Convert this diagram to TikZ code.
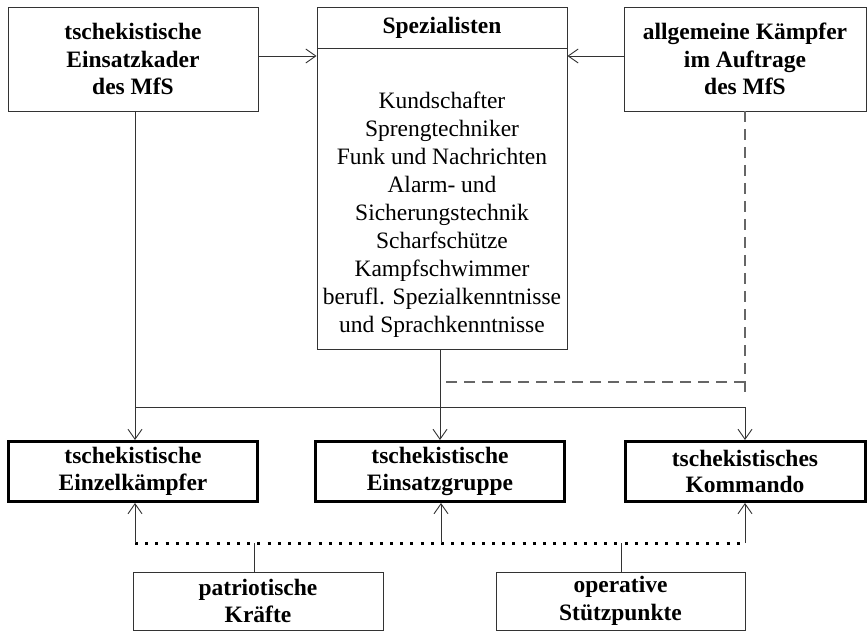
\documentclass[tikz,border=0pt]{standalone}
\usepackage{fontspec}
\setmainfont{Liberation Serif}
\usetikzlibrary{arrows.meta}
\begin{document}
\begin{tikzpicture}[x=1pt,y=-1pt,
  every node/.style={font=\fontsize{23.5}{28}\selectfont, inner sep=0pt, align=center},
  thinbox/.style={draw=black!80, line width=0.9pt, font=\fontsize{23.5}{27.5}\selectfont\bfseries},
  thickbox/.style={draw=black, line width=3pt, font=\fontsize{23.5}{26.5}\selectfont\bfseries},
  conn/.style={draw=black!80, line width=0.9pt},
  arr/.style={conn, -{Straight Barb[length=10pt,width=14pt,line width=0.9pt]}},
  dashline/.style={draw=black!60, line width=1.4pt, dash pattern=on 11pt off 7pt},
  dotline/.style={draw=black, line width=3pt, dash pattern=on 3pt off 7.2pt}
]
\useasboundingbox (0,0) rectangle (868,631);
% top row
\node[thinbox, minimum width=250pt, minimum height=104pt] (tek) at (133,59)
  {tschekistische\\Einsatzkader\\des MfS};
\node[thinbox, minimum width=250pt, minimum height=342pt] (spez) at (442,178) {};
\node[font=\fontsize{23.5}{27.5}\selectfont\bfseries] (spezhead) at (442,28) {Spezialisten};
\node (spezbody) at (442,214.5) {Kundschafter\\Sprengtechniker\\Funk und Nachrichten\\Alarm- und\\Sicherungstechnik\\Scharfschütze\\Kampfschwimmer\\berufl. Spezialkenntnisse\\und Sprachkenntnisse};
\coordinate (hl) at (317,48);
\coordinate (hr) at (567,48);
\draw[conn] (hl) -- (hr);
\node[thinbox, minimum width=242pt, minimum height=104pt] (akm) at (745,59)
  {allgemeine Kämpfer\\im Auftrage\\des MfS};
% middle row
\node[thickbox, minimum width=249pt, minimum height=60pt] (einzel) at (133,471.5)
  {tschekistische\\Einzelkämpfer};
\node[thickbox, minimum width=249pt, minimum height=60pt] (gruppe) at (440,471.5)
  {tschekistische\\Einsatzgruppe};
\node[thickbox, minimum width=240pt, minimum height=60pt] (kommando) at (745,471.5)
  {tschekistisches\\Kommando};
% bottom row
\node[thinbox, minimum width=250pt, minimum height=58pt] (patr) at (258,601)
  {patriotische\\Kräfte};
\node[thinbox, minimum width=249pt, minimum height=58pt] (oper) at (620.5,601)
  {operative\\Stützpunkte};
% coordinates
\coordinate (tekB) at (135,111);
\coordinate (j1) at (135,407);
\coordinate (j2) at (745,407);
\coordinate (spezB) at (440,349);
\coordinate (akmB) at (745,111);
\coordinate (dEnd) at (745,398);
\coordinate (dc) at (745,382);
\coordinate (dl) at (440,382);
\coordinate (p1) at (135,543);
\coordinate (p2) at (441,543);
\coordinate (p3) at (745,543);
\coordinate (q1) at (254,543);
\coordinate (q2) at (621,543);
% top arrows
\draw[arr] (tek.east |- 0,56) -- (spez.west |- 0,56);
\draw[arr] (akm.west |- 0,56) -- (spez.east |- 0,56);
% solid distribution
\draw[conn] (tekB) -- (j1);
\draw[arr] (j1) -- (einzel.north -| j1);
\draw[conn] (j1) -- (j2);
\draw[arr] (j2) -- (kommando.north -| j2);
\draw[arr] (spezB) -- (gruppe.north -| spezB);
% dashed
\draw[dashline] (akmB) -- (dEnd);
\draw[dashline] (dc) -- (dl);
% dotted
\draw[dotline] (p1) -- (p3);
\draw[arr] (p1) -- (einzel.south -| p1);
\draw[arr] (p2) -- (gruppe.south -| p2);
\draw[arr] (p3) -- (kommando.south -| p3);
\draw[conn] (patr.north -| q1) -- (q1);
\draw[conn] (oper.north -| q2) -- (q2);
\end{tikzpicture}
\end{document}
